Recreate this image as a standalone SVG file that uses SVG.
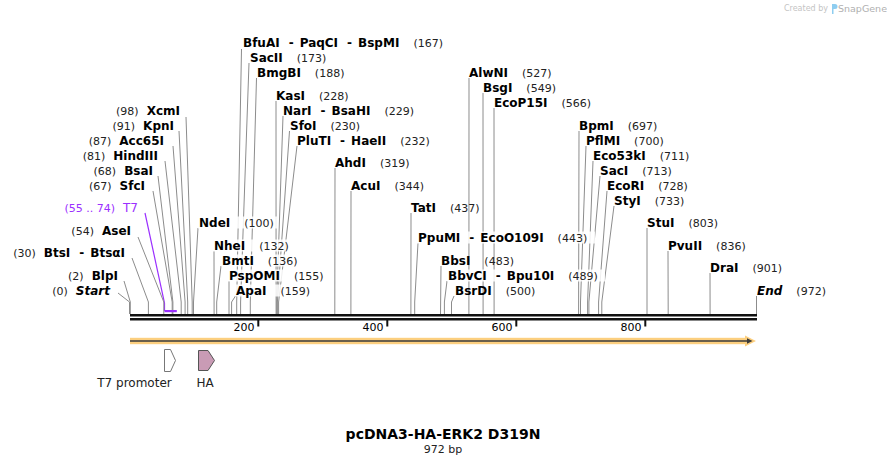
<svg xmlns="http://www.w3.org/2000/svg" width="887" height="464" viewBox="0 0 887 464">
<style>
.n{font-family:"DejaVu Sans",Verdana,sans-serif;font-weight:bold;font-size:12px;fill:#000}
.c{font-weight:normal;font-size:11px;fill:#222}
.i{font-style:italic}
.p{font-family:"DejaVu Sans",Verdana,sans-serif;font-size:11px;fill:#9B30FF}
.ln{stroke:#8c8c8c;stroke-width:1;fill:none}
.pl{stroke:#9B30FF;stroke-width:1.2;fill:none}
.tk{font-family:"DejaVu Sans",Verdana,sans-serif;font-size:11px;fill:#000}
.ft{font-family:"DejaVu Sans",Verdana,sans-serif;font-size:12px;fill:#222}
.bg{fill:#fff;fill-opacity:0.85}
</style>
<rect width="887" height="464" fill="#fff"/>
<g id="watermark">
<text x="828" y="11" text-anchor="end" font-family="DejaVu Sans,sans-serif" font-size="8" fill="#c4c4c4">Created by</text>
<path d="M832,4 h3 a2.5,2.5 0 0 1 0,5 h-1.5 v5 h-1.5 z" fill="#8ecdf0"/>
<text x="838" y="12" font-family="DejaVu Sans,sans-serif" font-size="9.5" fill="#b0b0b0">SnapGene</text>
</g>
<g id="connectors">
<polyline class="ln" points="186,117 192.2,302 192.2,314"/>
<polyline class="ln" points="179,131 187.7,302 187.7,314"/>
<polyline class="ln" points="173,146 185.1,302 185.1,314"/>
<polyline class="ln" points="165,161 181.2,302 181.2,314"/>
<polyline class="ln" points="158,176 172.9,302 172.9,314"/>
<polyline class="ln" points="153,191 172.2,302 172.2,314"/>
<polyline class="pl" points="145,213 164.5,303 164.5,311"/>
<polyline class="ln" points="138,237 163.8,302 163.8,314"/>
<polyline class="ln" points="132,258 148.4,302 148.4,314"/>
<polyline class="ln" points="124,281 130.3,302 130.3,314"/>
<polyline class="ln" points="118,293 129.5,302 129.5,314"/>
<polyline class="ln" points="241.5,49 236.7,302 236.7,314"/>
<polyline class="ln" points="249,63 240.6,302 240.6,314"/>
<polyline class="ln" points="256.5,78 250.3,302 250.3,314"/>
<polyline class="ln" points="276,101 276.1,302 276.1,314"/>
<polyline class="ln" points="283,116 276.7,302 276.7,314"/>
<polyline class="ln" points="289.5,131 277.4,302 277.4,314"/>
<polyline class="ln" points="297,146 278.6,302 278.6,314"/>
<polyline class="ln" points="335,168 334.8,314"/>
<polyline class="ln" points="351,191 350.9,314"/>
<polyline class="ln" points="411,213 410.9,314"/>
<polyline class="ln" points="418,243 414.7,302 414.7,314"/>
<polyline class="ln" points="441,266 440.5,314"/>
<polyline class="ln" points="447,281 444.4,302 444.4,314"/>
<polyline class="ln" points="454,296 451.5,302 451.5,314"/>
<polyline class="ln" points="198,228 193.5,302 193.5,314"/>
<polyline class="ln" points="214,251 214.1,314"/>
<polyline class="ln" points="221,266 216.7,302 216.7,314"/>
<polyline class="ln" points="229,281 229,314"/>
<polyline class="ln" points="235.5,296 231.6,302 231.6,314"/>
<polyline class="ln" points="469,78 468.9,314"/>
<polyline class="ln" points="483,93 483.1,314"/>
<polyline class="ln" points="494,108 494.1,314"/>
<polyline class="ln" points="579,131 578.6,314"/>
<polyline class="ln" points="586,146 580.5,302 580.5,314"/>
<polyline class="ln" points="593,161 587.6,302 587.6,314"/>
<polyline class="ln" points="600,176 588.9,302 588.9,314"/>
<polyline class="ln" points="607,191 598.6,302 598.6,314"/>
<polyline class="ln" points="614,206 601.8,302 601.8,314"/>
<polyline class="ln" points="647,228 647,314"/>
<polyline class="ln" points="668,251 668.2,314"/>
<polyline class="ln" points="710,273 710.1,314"/>
<polyline class="ln" points="756.5,296 756.5,314"/>
</g>
<g id="left-labels">
<g id="XcmI"><text class="n" x="180" y="114.5" text-anchor="end"><tspan class="c">(98)</tspan><tspan dx="8">XcmI</tspan></text></g>
<g id="KpnI"><text class="n" x="174" y="129.5" text-anchor="end"><tspan class="c">(91)</tspan><tspan dx="8">KpnI</tspan></text></g>
<g id="Acc65I"><text class="n" x="164" y="144.5" text-anchor="end"><tspan class="c">(87)</tspan><tspan dx="8">Acc65I</tspan></text></g>
<g id="HindIII"><text class="n" x="158" y="159.5" text-anchor="end"><tspan class="c">(81)</tspan><tspan dx="8">HindIII</tspan></text></g>
<g id="BsaI"><text class="n" x="153" y="174.5" text-anchor="end"><tspan class="c">(68)</tspan><tspan dx="8">BsaI</tspan></text></g>
<g id="SfcI"><text class="n" x="145" y="189.5" text-anchor="end"><tspan class="c">(67)</tspan><tspan dx="8">SfcI</tspan></text></g>
<g id="T7"><text class="p" x="138" y="211.5" text-anchor="end">(55 .. 74)<tspan dx="8" font-size="12">T7</tspan></text>
<rect x="164.5" y="310" width="12.3" height="2.2" fill="#9B30FF"/></g>
<g id="AseI"><text class="n" x="131" y="234.5" text-anchor="end"><tspan class="c">(54)</tspan><tspan dx="8">AseI</tspan></text></g>
<g id="BtsI"><text class="n" x="125" y="256.5" text-anchor="end"><tspan class="c">(30)</tspan><tspan dx="8">BtsI</tspan><tspan dx="9">-</tspan><tspan dx="6">BtsαI</tspan></text></g>
<g id="BlpI"><text class="n" x="118" y="279.5" text-anchor="end"><tspan class="c">(2)</tspan><tspan dx="8">BlpI</tspan></text></g>
<g id="Start"><text class="n" x="110" y="294.5" text-anchor="end"><tspan class="c">(0)</tspan><tspan dx="8" class="i">Start</tspan></text></g>
</g>
<g id="right-labels">
<g id="BfuAI"><text class="n" x="243" y="46.5">BfuAI<tspan dx="9">-</tspan><tspan dx="6">PaqCI</tspan><tspan dx="9">-</tspan><tspan dx="6">BspMI</tspan><tspan class="c" dx="14">(167)</tspan></text></g>
<g id="SacII"><text class="n" x="250" y="61.5">SacII<tspan class="c" dx="14">(173)</tspan></text></g>
<g id="BmgBI"><text class="n" x="257" y="76.5">BmgBI<tspan class="c" dx="14">(188)</tspan></text></g>
<g id="KasI"><text class="n" x="276" y="99.5">KasI<tspan class="c" dx="14">(228)</tspan></text></g>
<g id="NarI"><text class="n" x="283" y="114.5">NarI<tspan dx="9">-</tspan><tspan dx="6">BsaHI</tspan><tspan class="c" dx="14">(229)</tspan></text></g>
<g id="SfoI"><text class="n" x="290" y="129.5">SfoI<tspan class="c" dx="14">(230)</tspan></text></g>
<g id="PluTI"><text class="n" x="297" y="144.5">PluTI<tspan dx="9">-</tspan><tspan dx="6">HaeII</tspan><tspan class="c" dx="14">(232)</tspan></text></g>
<g id="AhdI"><text class="n" x="335" y="166.5">AhdI<tspan class="c" dx="14">(319)</tspan></text></g>
<g id="AcuI"><text class="n" x="351" y="189.5">AcuI<tspan class="c" dx="14">(344)</tspan></text></g>
<g id="TatI"><text class="n" x="411" y="211.5">TatI<tspan class="c" dx="14">(437)</tspan></text></g>
<g id="PpuMI"><rect class="bg" x="417" y="231.5" width="178" height="12"/><text class="n" x="418" y="241.5">PpuMI<tspan dx="9">-</tspan><tspan dx="6">EcoO109I</tspan><tspan class="c" dx="14">(443)</tspan></text></g>
<g id="BbsI"><text class="n" x="441" y="264.5">BbsI<tspan class="c" dx="14">(483)</tspan></text></g>
<g id="BbvCI"><rect class="bg" x="447" y="269.5" width="158" height="12"/><text class="n" x="448" y="279.5">BbvCI<tspan dx="9">-</tspan><tspan dx="6">Bpu10I</tspan><tspan class="c" dx="14">(489)</tspan></text></g>
<g id="BsrDI"><text class="n" x="455" y="294.5">BsrDI<tspan class="c" dx="14">(500)</tspan></text></g>
<g id="NdeI"><rect class="bg" x="198" y="216.5" width="80" height="12"/><text class="n" x="199" y="226.5">NdeI<tspan class="c" dx="14">(100)</tspan></text></g>
<g id="NheI"><rect class="bg" x="213" y="239.5" width="80" height="12"/><text class="n" x="214" y="249.5">NheI<tspan class="c" dx="14">(132)</tspan></text></g>
<g id="BmtI"><rect class="bg" x="221" y="254.5" width="79" height="12"/><text class="n" x="222" y="264.5">BmtI<tspan class="c" dx="14">(136)</tspan></text></g>
<g id="PspOMI"><rect class="bg" x="228" y="269.5" width="93" height="12"/><text class="n" x="229" y="279.5">PspOMI<tspan class="c" dx="14">(155)</tspan></text></g>
<g id="ApaI"><rect class="bg" x="235" y="284.5" width="81" height="12"/><text class="n" x="236" y="294.5">ApaI<tspan class="c" dx="14">(159)</tspan></text></g>
<g id="AlwNI"><text class="n" x="469" y="76.5">AlwNI<tspan class="c" dx="14">(527)</tspan></text></g>
<g id="BsgI"><text class="n" x="483" y="91.5">BsgI<tspan class="c" dx="14">(549)</tspan></text></g>
<g id="EcoP15I"><text class="n" x="494" y="106.5">EcoP15I<tspan class="c" dx="14">(566)</tspan></text></g>
<g id="BpmI"><text class="n" x="579" y="129.5">BpmI<tspan class="c" dx="14">(697)</tspan></text></g>
<g id="PflMI"><text class="n" x="586" y="144.5">PflMI<tspan class="c" dx="14">(700)</tspan></text></g>
<g id="Eco53kI"><text class="n" x="593" y="159.5">Eco53kI<tspan class="c" dx="14">(711)</tspan></text></g>
<g id="SacI"><text class="n" x="600" y="174.5">SacI<tspan class="c" dx="14">(713)</tspan></text></g>
<g id="EcoRI"><text class="n" x="607" y="189.5">EcoRI<tspan class="c" dx="14">(728)</tspan></text></g>
<g id="StyI"><text class="n" x="614" y="204.5">StyI<tspan class="c" dx="14">(733)</tspan></text></g>
<g id="StuI"><text class="n" x="647" y="226.5">StuI<tspan class="c" dx="14">(803)</tspan></text></g>
<g id="PvuII"><text class="n" x="668" y="249.5">PvuII<tspan class="c" dx="14">(836)</tspan></text></g>
<g id="DraI"><text class="n" x="710" y="271.5">DraI<tspan class="c" dx="14">(901)</tspan></text></g>
<g id="End"><text class="n" x="757" y="294.5"><tspan class="i">End</tspan><tspan class="c" dx="14">(972)</tspan></text></g>
</g>
<g id="ruler">
<rect x="130" y="314" width="627" height="2.5" fill="#111"/>
<rect x="130" y="318" width="627" height="2.5" fill="#111"/>
<rect x="257.3" y="320" width="2" height="6.5" fill="#111"/>
<rect x="386.3" y="320" width="2" height="6.5" fill="#111"/>
<rect x="515.3" y="320" width="2" height="6.5" fill="#111"/>
<rect x="644.3" y="320" width="2" height="6.5" fill="#111"/>
<text class="tk" x="254.5" y="331" text-anchor="end">200</text>
<text class="tk" x="383.5" y="331" text-anchor="end">400</text>
<text class="tk" x="512.5" y="331" text-anchor="end">600</text>
<text class="tk" x="641.5" y="331" text-anchor="end">800</text>
</g>
<g id="sequence-bar">
<rect x="130" y="337.8" width="617" height="6.4" fill="#FCCF7F"/>
<polygon points="745,335.5 756,341 745,346.5" fill="#FCCF7F"/>
<line x1="130" y1="341" x2="748" y2="341" stroke="#3a3a3a" stroke-width="1.5"/>
<polygon points="747,338.3 752.5,341 747,343.7" fill="#3a3a3a"/>
</g>
<g id="T7-promoter">
<polygon points="164.5,349.5 170.5,349.5 175.5,360.5 170.5,371.5 164.5,371.5" fill="#fff" stroke="#777" stroke-width="1"/>
<text class="ft" x="134.5" y="387" text-anchor="middle">T7 promoter</text>
</g>
<g id="HA">
<polygon points="198.5,350.5 208,350.5 214.5,360.5 208,370.5 198.5,370.5" fill="#C99BB5" stroke="#555" stroke-width="1"/>
<text class="ft" x="205" y="387" text-anchor="middle">HA</text>
</g>
<g id="title">
<text x="443" y="439" text-anchor="middle" font-family="DejaVu Sans,Verdana,sans-serif" font-weight="bold" font-size="14" fill="#000">pcDNA3-HA-ERK2 D319N</text>
<text x="443" y="452.5" text-anchor="middle" font-family="DejaVu Sans,Verdana,sans-serif" font-size="11" fill="#222">972 bp</text>
</g>
</svg>
